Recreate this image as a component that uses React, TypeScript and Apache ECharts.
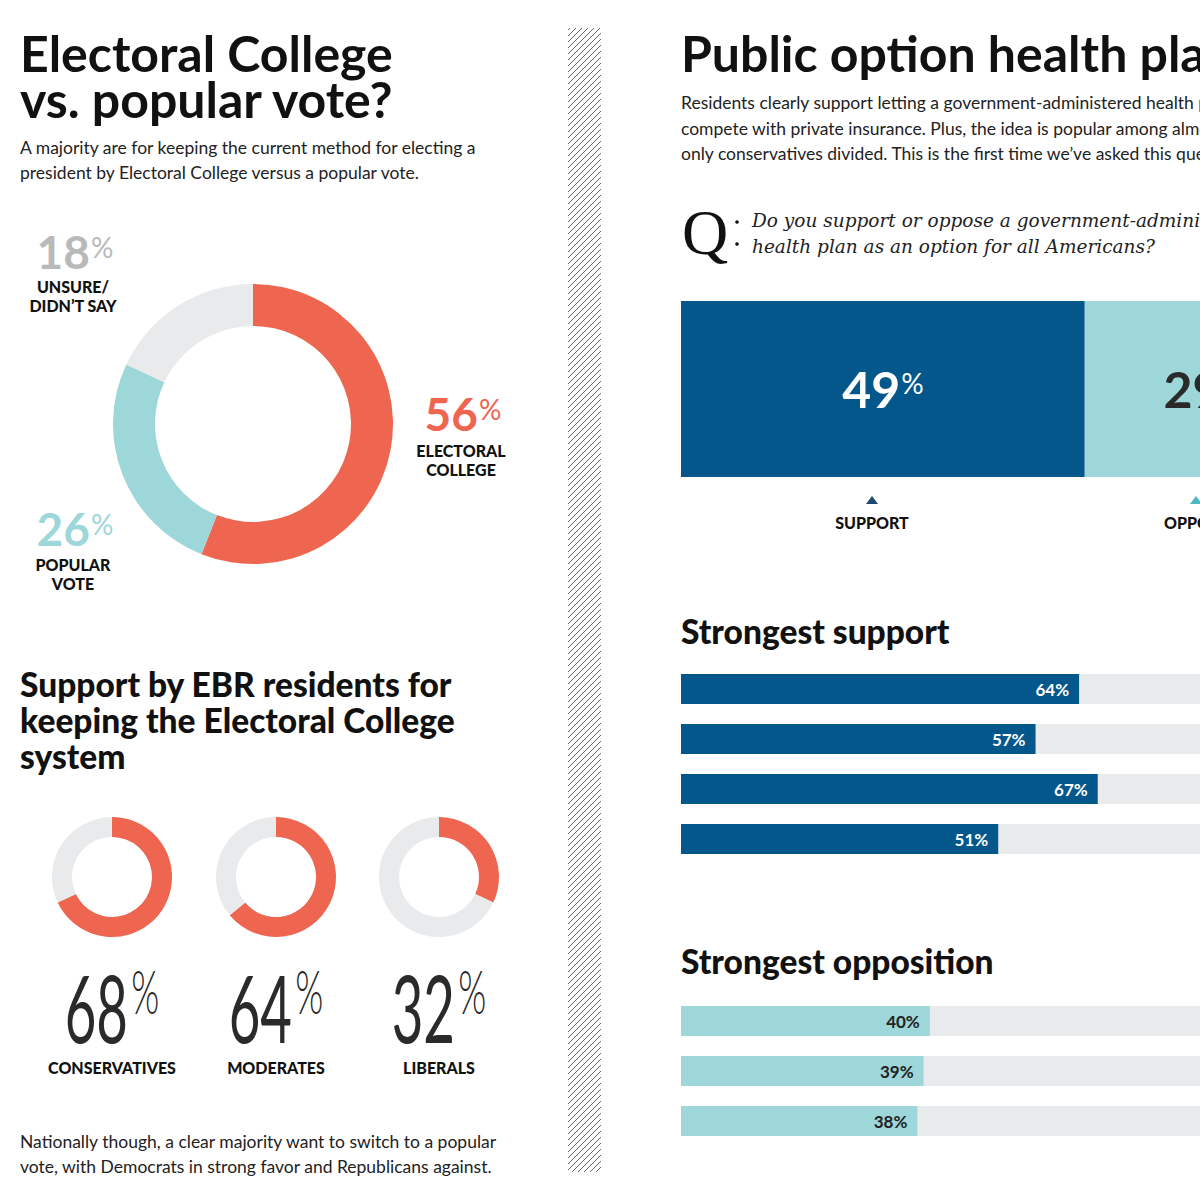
import React, { useEffect, useRef } from "react";
import * as echarts from "echarts";

// ---- data ----
const electoralNames = ["ELECTORAL\nCOLLEGE", "POPULAR\nVOTE", "UNSURE/\nDIDN’T SAY"];
const electoralValues = [56, 26, 18];

const groupNames = ["CONSERVATIVES", "MODERATES", "LIBERALS"];
const groupKeepValues = [68, 64, 32];

const publicOptionNames = ["SUPPORT", "OPPOSE"];
const publicOptionValues = [49, 29];

const supportRows = ["1", "2", "3", "4"];
const supportValues = [64, 57, 67, 51];

const oppositionRows = ["1", "2", "3"];
const oppositionValues = [40, 39, 38];

// ---- styling ----
const RED = "#ee6550";
const TEAL = "#9dd7da";
const NAVY = "#03578a";
const LIGHT = "#e9eaeb";
const INK = "#111111";
const SANS = "Lato, 'Noto Sans', sans-serif";
const SERIF = "'DejaVu Serif', 'Liberation Serif', serif";

// the page shows a 1200px window onto a wider spread
const VIEW_W = 1200;
const CANVAS_W = 1560;
const CANVAS_H = 1200;

type TxtOpts = { fill?: string; weight?: number; family?: string; align?: string; italic?: boolean; lineHeight?: number };

function txt(text: string, x: number, y: number, size: number, o: TxtOpts = {}) {
  return {
    type: "text",
    x,
    y,
    silent: true,
    style: {
      text,
      fill: o.fill ?? INK,
      font: `${o.italic ? "italic" : "normal"} ${o.weight ?? 400} ${size}px ${o.family ?? SANS}`,
      textAlign: o.align ?? "left",
      textVerticalAlign: "middle",
      ...(o.lineHeight ? { lineHeight: o.lineHeight } : {}),
    },
  };
}

function bigPct(value: number, x: number, y: number, numSize: number, pctSize: number, fill: string) {
  return {
    type: "text",
    x,
    y,
    silent: true,
    style: {
      text: `{n|${value}}{p|%}`,
      textAlign: "center",
      textVerticalAlign: "middle",
      rich: {
        n: { fontSize: numSize, fontWeight: 700, fontFamily: SANS, fill, lineHeight: numSize },
        p: {
          fontSize: pctSize,
          fontWeight: 400,
          fontFamily: SANS,
          fill,
          lineHeight: pctSize,
          verticalAlign: "top",
          padding: [5, 0, 0, 1],
        },
      },
    },
  };
}

function stackedLabel(text: string, x: number, y: number) {
  return text.split("\n").map((line, i) => txt(line, x, y + i * 19, 16, { weight: 900, align: "center" }));
}

// diagonal hatching for the column divider
function hatch(x0: number, y0: number, x1: number, y1: number, step: number) {
  const w = x1 - x0;
  const out: any[] = [];
  for (let c = y0 + 2; c <= y1 + w; c += step) {
    let sx = x0, sy = c, ex = x1, ey = c - w;
    if (sy > y1) { sx = x0 + (sy - y1); sy = y1; }
    if (ey < y0) { ex = x0 + (c - y0); ey = y0; }
    out.push({ type: "line", silent: true, shape: { x1: sx, y1: sy, x2: ex, y2: ey }, style: { stroke: "#666", lineWidth: 1 } });
  }
  return out;
}

const smallCenters = [112, 276, 439];

function pctLabelRich(color: string) {
  return {
    n: { fontSize: 50, fontWeight: 700, fontFamily: SANS, color, lineHeight: 50 },
    p: { fontSize: 28, fontWeight: 400, fontFamily: SANS, color, lineHeight: 28, verticalAlign: "top", padding: [5, 0, 0, 1] },
  };
}

function buildOption(): any {
  const graphic: any[] = [
    // left column
    txt("Electoral College\nvs. popular vote?", 20, 76, 50, { weight: 700, lineHeight: 46 }),
    txt("A majority are for keeping the current method for electing a", 20, 147, 17.5, { fill: "#222" }),
    txt("president by Electoral College versus a popular vote.", 20, 172, 17.5, { fill: "#222" }),

    bigPct(electoralValues[2], 75, 251, 46, 28, "#b9b9b9"),
    ...stackedLabel(electoralNames[2], 73, 286),
    bigPct(electoralValues[0], 463, 413, 46, 28, RED),
    ...stackedLabel(electoralNames[0], 461, 450),
    bigPct(electoralValues[1], 75, 528, 46, 28, TEAL),
    ...stackedLabel(electoralNames[1], 73, 564),

    txt("Support by EBR residents for\nkeeping the Electoral College\nsystem", 20, 720, 33.5, { weight: 900, lineHeight: 36 }),

    txt("Nationally though, a clear majority want to switch to a popular", 20, 1141, 17.5, { fill: "#222" }),
    txt("vote, with Democrats in strong favor and Republicans against.", 20, 1166, 17.5, { fill: "#222" }),

    // right column
    txt("Public option health plan", 681, 53, 50, { weight: 700 }),
    txt("Residents clearly support letting a government-administered health plan", 681, 102, 17.5, { fill: "#222" }),
    txt("compete with private insurance. Plus, the idea is popular among almost all groups,", 681, 128, 17.5, { fill: "#222" }),
    txt("only conservatives divided. This is the first time we’ve asked this question.", 681, 153, 17.5, { fill: "#222" }),

    txt("Q", 682, 232, 64, { family: "'Liberation Serif', serif" }),
    { type: "circle", silent: true, shape: { cx: 737, cy: 222, r: 1.8 }, style: { fill: "#111" } },
    { type: "circle", silent: true, shape: { cx: 737, cy: 244, r: 1.8 }, style: { fill: "#111" } },
    txt("Do you support or oppose a government-administered", 752, 220, 18.5, { family: SERIF, italic: true, fill: "#222" }),
    txt("health plan as an option for all Americans?", 752, 246, 18.5, { family: SERIF, italic: true, fill: "#222" }),

    { type: "polygon", silent: true, shape: { points: [[866, 504], [878, 504], [872, 496]] }, style: { fill: "#1d4770" } },
    txt(publicOptionNames[0], 872, 522, 16, { weight: 900, align: "center" }),
    { type: "polygon", silent: true, shape: { points: [[1190, 504], [1202, 504], [1196, 496]] }, style: { fill: "#4bb7c0" } },
    txt(publicOptionNames[1], 1196, 522, 16, { weight: 900, align: "center" }),

    txt("Strongest support", 681, 631, 33.5, { weight: 900 }),
    txt("Strongest opposition", 681, 961, 33.5, { weight: 900 }),

    ...hatch(568, 28, 601, 1172, 6),
  ];

  groupKeepValues.forEach((v, i) => {
    graphic.push({
      type: "text",
      x: smallCenters[i],
      y: 1006,
      scaleX: 0.58,
      silent: true,
      style: {
        text: `{n|${v}}{p|%}`,
        textAlign: "center",
        textVerticalAlign: "middle",
        rich: {
          n: { fontSize: 94, fontWeight: 400, fontFamily: SANS, fill: "#2a2a2a", lineHeight: 94 },
          p: { fontSize: 62, fontWeight: 300, fontFamily: SANS, fill: "#2a2a2a", lineHeight: 62, verticalAlign: "top", padding: [0, 0, 0, 6] },
        },
      },
    });
    graphic.push(txt(groupNames[i], smallCenters[i], 1067, 16, { weight: 900, align: "center" }));
  });

  const pieBase = {
    type: "pie",
    silent: true,
    startAngle: 90,
    clockwise: true,
    label: { show: false },
    labelLine: { show: false },
    emphasis: { disabled: true },
    itemStyle: { borderWidth: 0 },
  };

  const electoralColors = [RED, TEAL, LIGHT];

  const series: any[] = [
    {
      ...pieBase,
      center: [253, 424],
      radius: [98, 140],
      data: electoralValues.map((v, i) => ({ value: v, name: electoralNames[i], itemStyle: { color: electoralColors[i] } })),
    },
    ...groupKeepValues.map((v, i) => ({
      ...pieBase,
      center: [smallCenters[i], 877],
      radius: [40, 60],
      data: [
        { value: v, name: groupNames[i], itemStyle: { color: RED } },
        { value: 100 - v, name: "other", itemStyle: { color: LIGHT } },
      ],
    })),
    // headline stacked bar
    {
      type: "bar",
      xAxisIndex: 0,
      yAxisIndex: 0,
      stack: "po",
      barWidth: "100%",
      silent: true,
      data: [publicOptionValues[0]],
      itemStyle: { color: NAVY },
      label: {
        show: true,
        position: "inside",
        formatter: (p: any) => `{n|${p.value}}{p|%}`,
        rich: pctLabelRich("#ffffff"),
      },
    },
    {
      type: "bar",
      xAxisIndex: 0,
      yAxisIndex: 0,
      stack: "po",
      barWidth: "100%",
      silent: true,
      data: [publicOptionValues[1]],
      itemStyle: { color: TEAL },
      label: {
        show: true,
        position: "inside",
        formatter: (p: any) => `{n|${p.value}}{p|%}`,
        rich: pctLabelRich("#2a2a2a"),
      },
    },
    {
      type: "bar",
      xAxisIndex: 1,
      yAxisIndex: 1,
      barWidth: 30,
      silent: true,
      data: supportValues,
      itemStyle: { color: NAVY },
      showBackground: true,
      backgroundStyle: { color: LIGHT },
      label: {
        show: true,
        position: "insideRight",
        distance: 10,
        formatter: "{c}%",
        color: "#fff",
        fontSize: 17,
        fontWeight: 700,
        fontFamily: SANS,
      },
    },
    {
      type: "bar",
      xAxisIndex: 2,
      yAxisIndex: 2,
      barWidth: 30,
      silent: true,
      data: oppositionValues,
      itemStyle: { color: TEAL },
      showBackground: true,
      backgroundStyle: { color: LIGHT },
      label: {
        show: true,
        position: "insideRight",
        distance: 10,
        formatter: "{c}%",
        color: "#222",
        fontSize: 17,
        fontWeight: 700,
        fontFamily: SANS,
      },
    },
  ];

  const hiddenValue = (gridIndex: number) => ({ type: "value", gridIndex, min: 0, max: 100, show: false, splitLine: { show: false } });
  const hiddenCat = (gridIndex: number, data: string[]) => ({ type: "category", gridIndex, data, inverse: true, show: false });

  return {
    animation: false,
    backgroundColor: "#ffffff",
    tooltip: { show: false },
    grid: [
      { left: 681, top: 301, width: 824, height: 176, containLabel: false },
      { left: 681, top: 664, width: 622, height: 200, containLabel: false },
      { left: 681, top: 996, width: 622, height: 150, containLabel: false },
    ],
    xAxis: [hiddenValue(0), hiddenValue(1), hiddenValue(2)],
    yAxis: [hiddenCat(0, ["all"]), hiddenCat(1, supportRows), hiddenCat(2, oppositionRows)],
    series,
    graphic: { elements: graphic },
  };
}

export default function App() {
  const ref = useRef<HTMLDivElement>(null);
  useEffect(() => {
    if (!ref.current) return;
    const chart = echarts.init(ref.current, undefined, { renderer: "svg", width: CANVAS_W, height: CANVAS_H });
    chart.setOption(buildOption());
    return () => chart.dispose();
  }, []);
  return (
    <div style={{ position: "absolute", left: 0, top: 0, width: VIEW_W, height: CANVAS_H, overflow: "hidden", background: "#fff" }}>
      <div ref={ref} style={{ width: CANVAS_W, height: CANVAS_H }} />
    </div>
  );
}
